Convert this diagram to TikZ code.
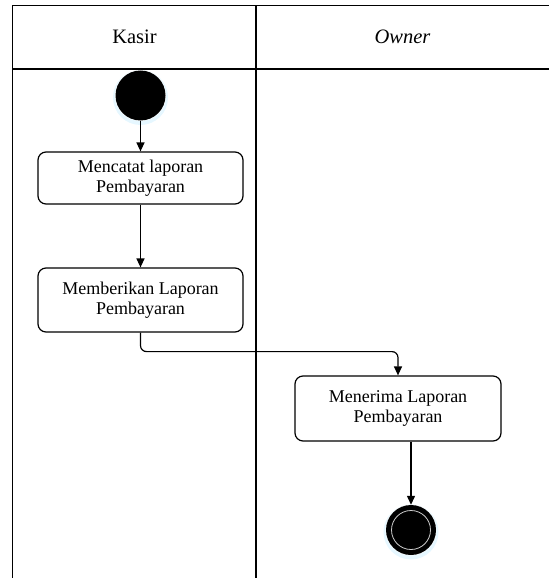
\documentclass[tikz,border=0pt]{standalone}
\usepackage{fontspec}
\setmainfont{Liberation Serif}
\usetikzlibrary{arrows.meta}

\tikzset{
  lane/.style={line width=1.3pt, draw=black},
  action/.style={draw, line width=1.2pt, rounded corners=8pt, align=center,
    font=\fontsize{18}{20.5}\selectfont, inner sep=0pt},
  flow/.style={line width=1.2pt, -{Triangle[length=9pt,width=8pt]}},
  halo/.style={fill=blue!30!cyan!14, draw=none},
  head/.style={font=\fontsize{20.5}{24}\selectfont}
}

\begin{document}
\begin{tikzpicture}[x=1pt, y=-1pt]
  \useasboundingbox (0,0) rectangle (549,578);

  % swimlane frame: header band and two lanes open at the bottom and right
  \draw[lane] (12.5,578) -- (12.5,5.5) -- (549,5.5);
  \draw[lane] (12.5,69) -- (549,69);
  \draw[lane] (256,5.5) -- (256,578);
  \node[head] (hkasir) at (134.5,37) {Kasir};
  \node[head] (howner) at (402.5,37) {\itshape Owner};

  % initial state
  \fill[halo, opacity=0.7] (140.5,97.5) circle (27.5);
  \fill[white] (140.5,95.5) circle (25.5);
  \node[circle, fill=black, minimum size=50pt, inner sep=0pt] (start) at (140.5,95.5) {};

  % actions
  \node[action, minimum width=205pt, minimum height=52pt] (catat) at (140.5,178)
    {Mencatat laporan\\Pembayaran};
  \node[action, minimum width=205pt, minimum height=64pt] (beri) at (140.5,300)
    {Memberikan Laporan\\Pembayaran};
  \node[action, minimum width=206pt, minimum height=65pt] (terima) at (398,408.5)
    {Menerima Laporan\\Pembayaran};

  % final state
  \fill[halo, opacity=0.7] (411,532) circle (27.5);
  \fill[white] (411,530) circle (25.5);
  \node[circle, fill=black, minimum size=50pt, inner sep=0pt] (fin) at (411,530) {};
  \draw[white!80!black, line width=0.8pt] (fin.center) circle (19.5);

  % control flow
  \draw[flow] (start.south) -- (catat.north);
  \draw[flow] (catat.south) -- (beri.north);
  \draw[flow, rounded corners=6pt] (beri.south) -- ++(0,19) -| (terima.north);
  \draw[flow] (terima.south -| fin.north) -- (fin.north);
\end{tikzpicture}
\end{document}
